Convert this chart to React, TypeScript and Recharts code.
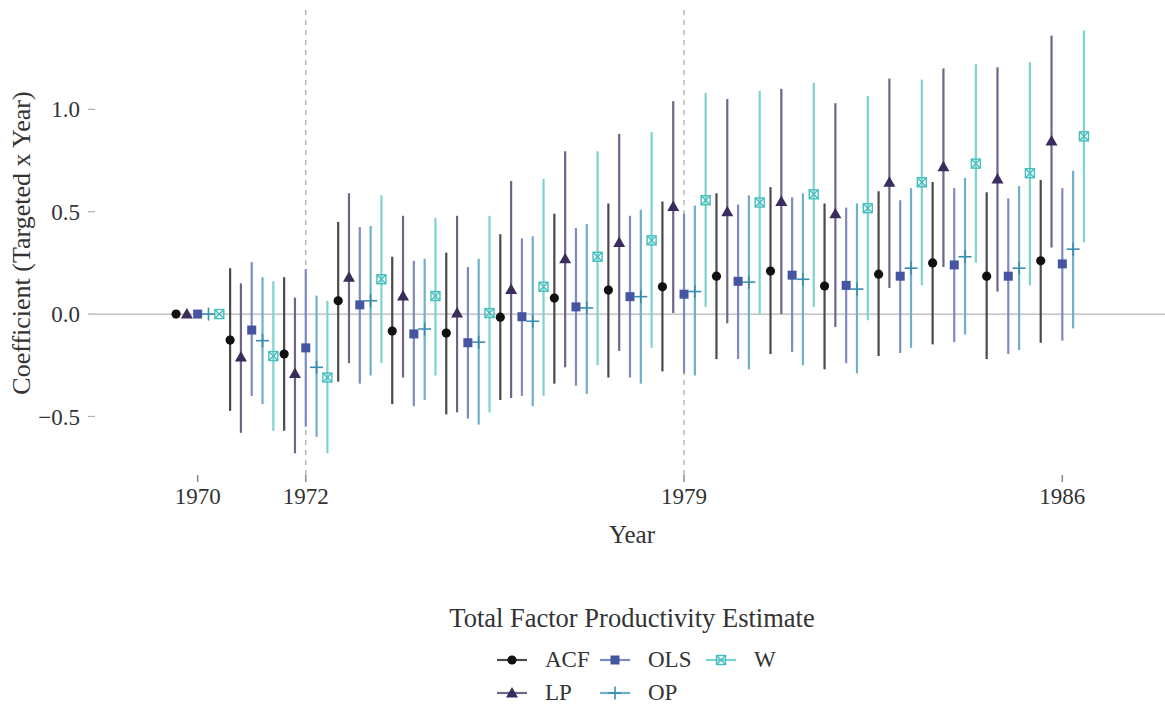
import React from "react";
import { ComposedChart, Scatter, ErrorBar, XAxis, YAxis, ReferenceLine } from "recharts";

const years = [1970, 1971, 1972, 1973, 1974, 1975, 1976, 1977, 1978, 1979, 1980, 1981, 1982, 1983, 1984, 1985, 1986];
const xTicks = [1970, 1972, 1979, 1986];
const yTicks = [-0.5, 0, 0.5, 1.0];
const seriesNames = ["ACF", "LP", "OLS", "OP", "W"];

const acfMean = [0, -0.127, -0.195, 0.065, -0.083, -0.093, -0.015, 0.078, 0.117, 0.133, 0.185, 0.21, 0.137, 0.195, 0.25, 0.185, 0.26];
const acfLo = [0, -0.473, -0.57, -0.33, -0.44, -0.49, -0.42, -0.34, -0.31, -0.28, -0.22, -0.195, -0.27, -0.205, -0.148, -0.22, -0.14];
const acfHi = [0, 0.224, 0.18, 0.45, 0.28, 0.3, 0.39, 0.49, 0.54, 0.55, 0.59, 0.62, 0.54, 0.6, 0.645, 0.595, 0.655];

const lpMean = [0, -0.21, -0.29, 0.18, 0.088, 0.005, 0.12, 0.27, 0.35, 0.525, 0.5, 0.55, 0.49, 0.644, 0.72, 0.66, 0.845];
const lpLo = [0, -0.58, -0.68, -0.24, -0.31, -0.48, -0.41, -0.26, -0.18, 0.005, -0.045, 0.0, -0.063, 0.127, 0.23, 0.11, 0.325];
const lpHi = [0, 0.15, 0.08, 0.59, 0.48, 0.48, 0.65, 0.795, 0.88, 1.04, 1.05, 1.1, 1.03, 1.15, 1.2, 1.205, 1.36];

const olsMean = [0, -0.078, -0.165, 0.045, -0.097, -0.14, -0.013, 0.035, 0.085, 0.097, 0.16, 0.19, 0.14, 0.185, 0.24, 0.185, 0.245];
const olsLo = [0, -0.4, -0.55, -0.34, -0.45, -0.51, -0.4, -0.35, -0.31, -0.29, -0.22, -0.185, -0.24, -0.19, -0.137, -0.195, -0.13];
const olsHi = [0, 0.254, 0.22, 0.425, 0.26, 0.23, 0.37, 0.42, 0.48, 0.49, 0.535, 0.57, 0.52, 0.556, 0.615, 0.565, 0.615];

const opMean = [0, -0.13, -0.26, 0.065, -0.073, -0.137, -0.035, 0.03, 0.085, 0.11, 0.156, 0.17, 0.122, 0.224, 0.28, 0.224, 0.317];
const opLo = [0, -0.44, -0.6, -0.3, -0.42, -0.54, -0.45, -0.39, -0.34, -0.3, -0.27, -0.25, -0.29, -0.165, -0.1, -0.176, -0.07];
const opHi = [0, 0.18, 0.09, 0.43, 0.27, 0.27, 0.38, 0.44, 0.51, 0.53, 0.58, 0.59, 0.54, 0.615, 0.665, 0.625, 0.7];

const wMean = [0, -0.205, -0.31, 0.17, 0.088, 0.005, 0.133, 0.28, 0.36, 0.556, 0.545, 0.585, 0.517, 0.644, 0.735, 0.688, 0.868];
const wLo = [0, -0.57, -0.68, -0.24, -0.3, -0.48, -0.4, -0.25, -0.165, 0.035, 0.0, 0.035, -0.03, 0.14, 0.25, 0.14, 0.35];
const wHi = [0, 0.16, 0.065, 0.58, 0.47, 0.48, 0.66, 0.795, 0.89, 1.08, 1.09, 1.13, 1.065, 1.145, 1.22, 1.23, 1.385];

const pointColors = ["#111111", "#3a2d5c", "#4555a2", "#3a8db2", "#44bfbd"];
const lineColors = ["#4a4a4a", "#6e6589", "#7f8ac2", "#6eafc9", "#7dd3cd"];
const offsets = [-0.4, -0.2, 0, 0.2, 0.4];

const means = [acfMean, lpMean, olsMean, opMean, wMean];
const los = [acfLo, lpLo, olsLo, opLo, wLo];
const his = [acfHi, lpHi, olsHi, opHi, wHi];

const FONT = "'Liberation Serif', 'Times New Roman', serif";

function build(i: number) {
  return years.map((yr, k) => ({
    x: yr + offsets[i],
    y: means[i][k],
    err: [means[i][k] - los[i][k], his[i][k] - means[i][k]],
  }));
}

function Marker({ kind, cx, cy }: { kind: number; cx: number; cy: number }) {
  const c = pointColors[kind];
  if (kind === 0) return <circle cx={cx} cy={cy} r={4.6} fill={c} />;
  if (kind === 1)
    return <polygon points={`${cx},${cy - 6} ${cx - 6},${cy + 4.5} ${cx + 6},${cy + 4.5}`} fill={c} />;
  if (kind === 2) return <rect x={cx - 4.5} y={cy - 4.5} width={9} height={9} fill={c} />;
  if (kind === 3)
    return (
      <g stroke={c} strokeWidth={1.6}>
        <line x1={cx - 6.5} y1={cy} x2={cx + 6.5} y2={cy} />
        <line x1={cx} y1={cy - 6.5} x2={cx} y2={cy + 6.5} />
      </g>
    );
  return (
    <g stroke={c} strokeWidth={1.4} fill="none">
      <rect x={cx - 4.5} y={cy - 4.5} width={9} height={9} />
      <line x1={cx - 4.5} y1={cy - 4.5} x2={cx + 4.5} y2={cy + 4.5} />
      <line x1={cx - 4.5} y1={cy + 4.5} x2={cx + 4.5} y2={cy - 4.5} />
    </g>
  );
}

function LegendKey({ kind }: { kind: number }) {
  return (
    <svg width={32} height={16} style={{ display: "block" }}>
      <line x1={1} y1={8} x2={31} y2={8} stroke={lineColors[kind]} strokeWidth={2.2} />
      <Marker kind={kind} cx={16} cy={8} />
    </svg>
  );
}

const legendPos = [
  { k: 0, x: 496, y: 652 },
  { k: 1, x: 496, y: 685 },
  { k: 2, x: 599, y: 652 },
  { k: 3, x: 599, y: 685 },
  { k: 4, x: 705, y: 652 },
];

export default function App() {
  const data = seriesNames.map((_, i) => build(i));
  return (
    <div style={{ position: "absolute", left: 0, top: 0, width: 1165, height: 708, background: "#fff", fontFamily: FONT, overflow: "hidden" }}>
      <ComposedChart width={1165} height={708} margin={{ top: 9, right: 0, bottom: 193, left: 0 }}>
        <XAxis
          dataKey="x"
          type="number"
          domain={[1968.1, 1987.9]}
          ticks={xTicks}
          axisLine={false}
          tickLine={{ stroke: "#8a8a8a", strokeWidth: 1.5 }}
          tickSize={7}
          tickMargin={6}
          height={40}
          tick={{ fill: "#333", fontSize: 23, fontFamily: FONT }}
          allowDataOverflow
        />
        <YAxis
          dataKey="y"
          type="number"
          domain={[-0.786, 1.49]}
          ticks={yTicks}
          axisLine={false}
          tickLine={{ stroke: "#b0b0b0", strokeWidth: 1.2 }}
          tickSize={7}
          tickMargin={8}
          width={95}
          tick={{ fill: "#333", fontSize: 23, fontFamily: FONT }}
          tickFormatter={(v: number) => (v < 0 ? "\u2212" + Math.abs(v).toFixed(1) : v.toFixed(1))}
          allowDataOverflow
        />
        <ReferenceLine y={0} stroke="#b5b5b5" strokeWidth={1.3} />
        <ReferenceLine x={1972} stroke="#a8a8a8" strokeWidth={1.2} strokeDasharray="5 5" />
        <ReferenceLine x={1979} stroke="#a8a8a8" strokeWidth={1.2} strokeDasharray="5 5" />
        {seriesNames.map((name, i) => (
          <Scatter
            key={name}
            name={name}
            data={data[i]}
            isAnimationActive={false}
            shape={(p: any) => <Marker kind={i} cx={p.cx} cy={p.cy} />}
          >
            <ErrorBar dataKey="err" direction="y" width={0} stroke={lineColors[i]} strokeWidth={2.2} isAnimationActive={false} />
          </Scatter>
        ))}
      </ComposedChart>
      <div style={{ position: "absolute", left: 532, width: 200, top: 521, textAlign: "center", fontSize: 25, color: "#333" }}>Year</div>
      <div
        style={{
          position: "absolute",
          left: 22,
          top: 243,
          width: 400,
          textAlign: "center",
          fontSize: 26,
          color: "#333",
          transform: "translate(-50%, -50%) rotate(-90deg)",
          lineHeight: "28px",
        }}
      >
        Coefficient (Targeted x Year)
      </div>
      <div style={{ position: "absolute", left: 382, width: 500, top: 603, textAlign: "center", fontSize: 26.5, color: "#333" }}>
        Total Factor Productivity Estimate
      </div>
      {legendPos.map((lp) => (
        <div key={lp.k} style={{ position: "absolute", left: lp.x, top: lp.y, display: "flex", alignItems: "center" }}>
          <LegendKey kind={lp.k} />
          <span style={{ marginLeft: 17, fontSize: 23, color: "#333", lineHeight: "16px" }}>{seriesNames[lp.k]}</span>
        </div>
      ))}
    </div>
  );
}
